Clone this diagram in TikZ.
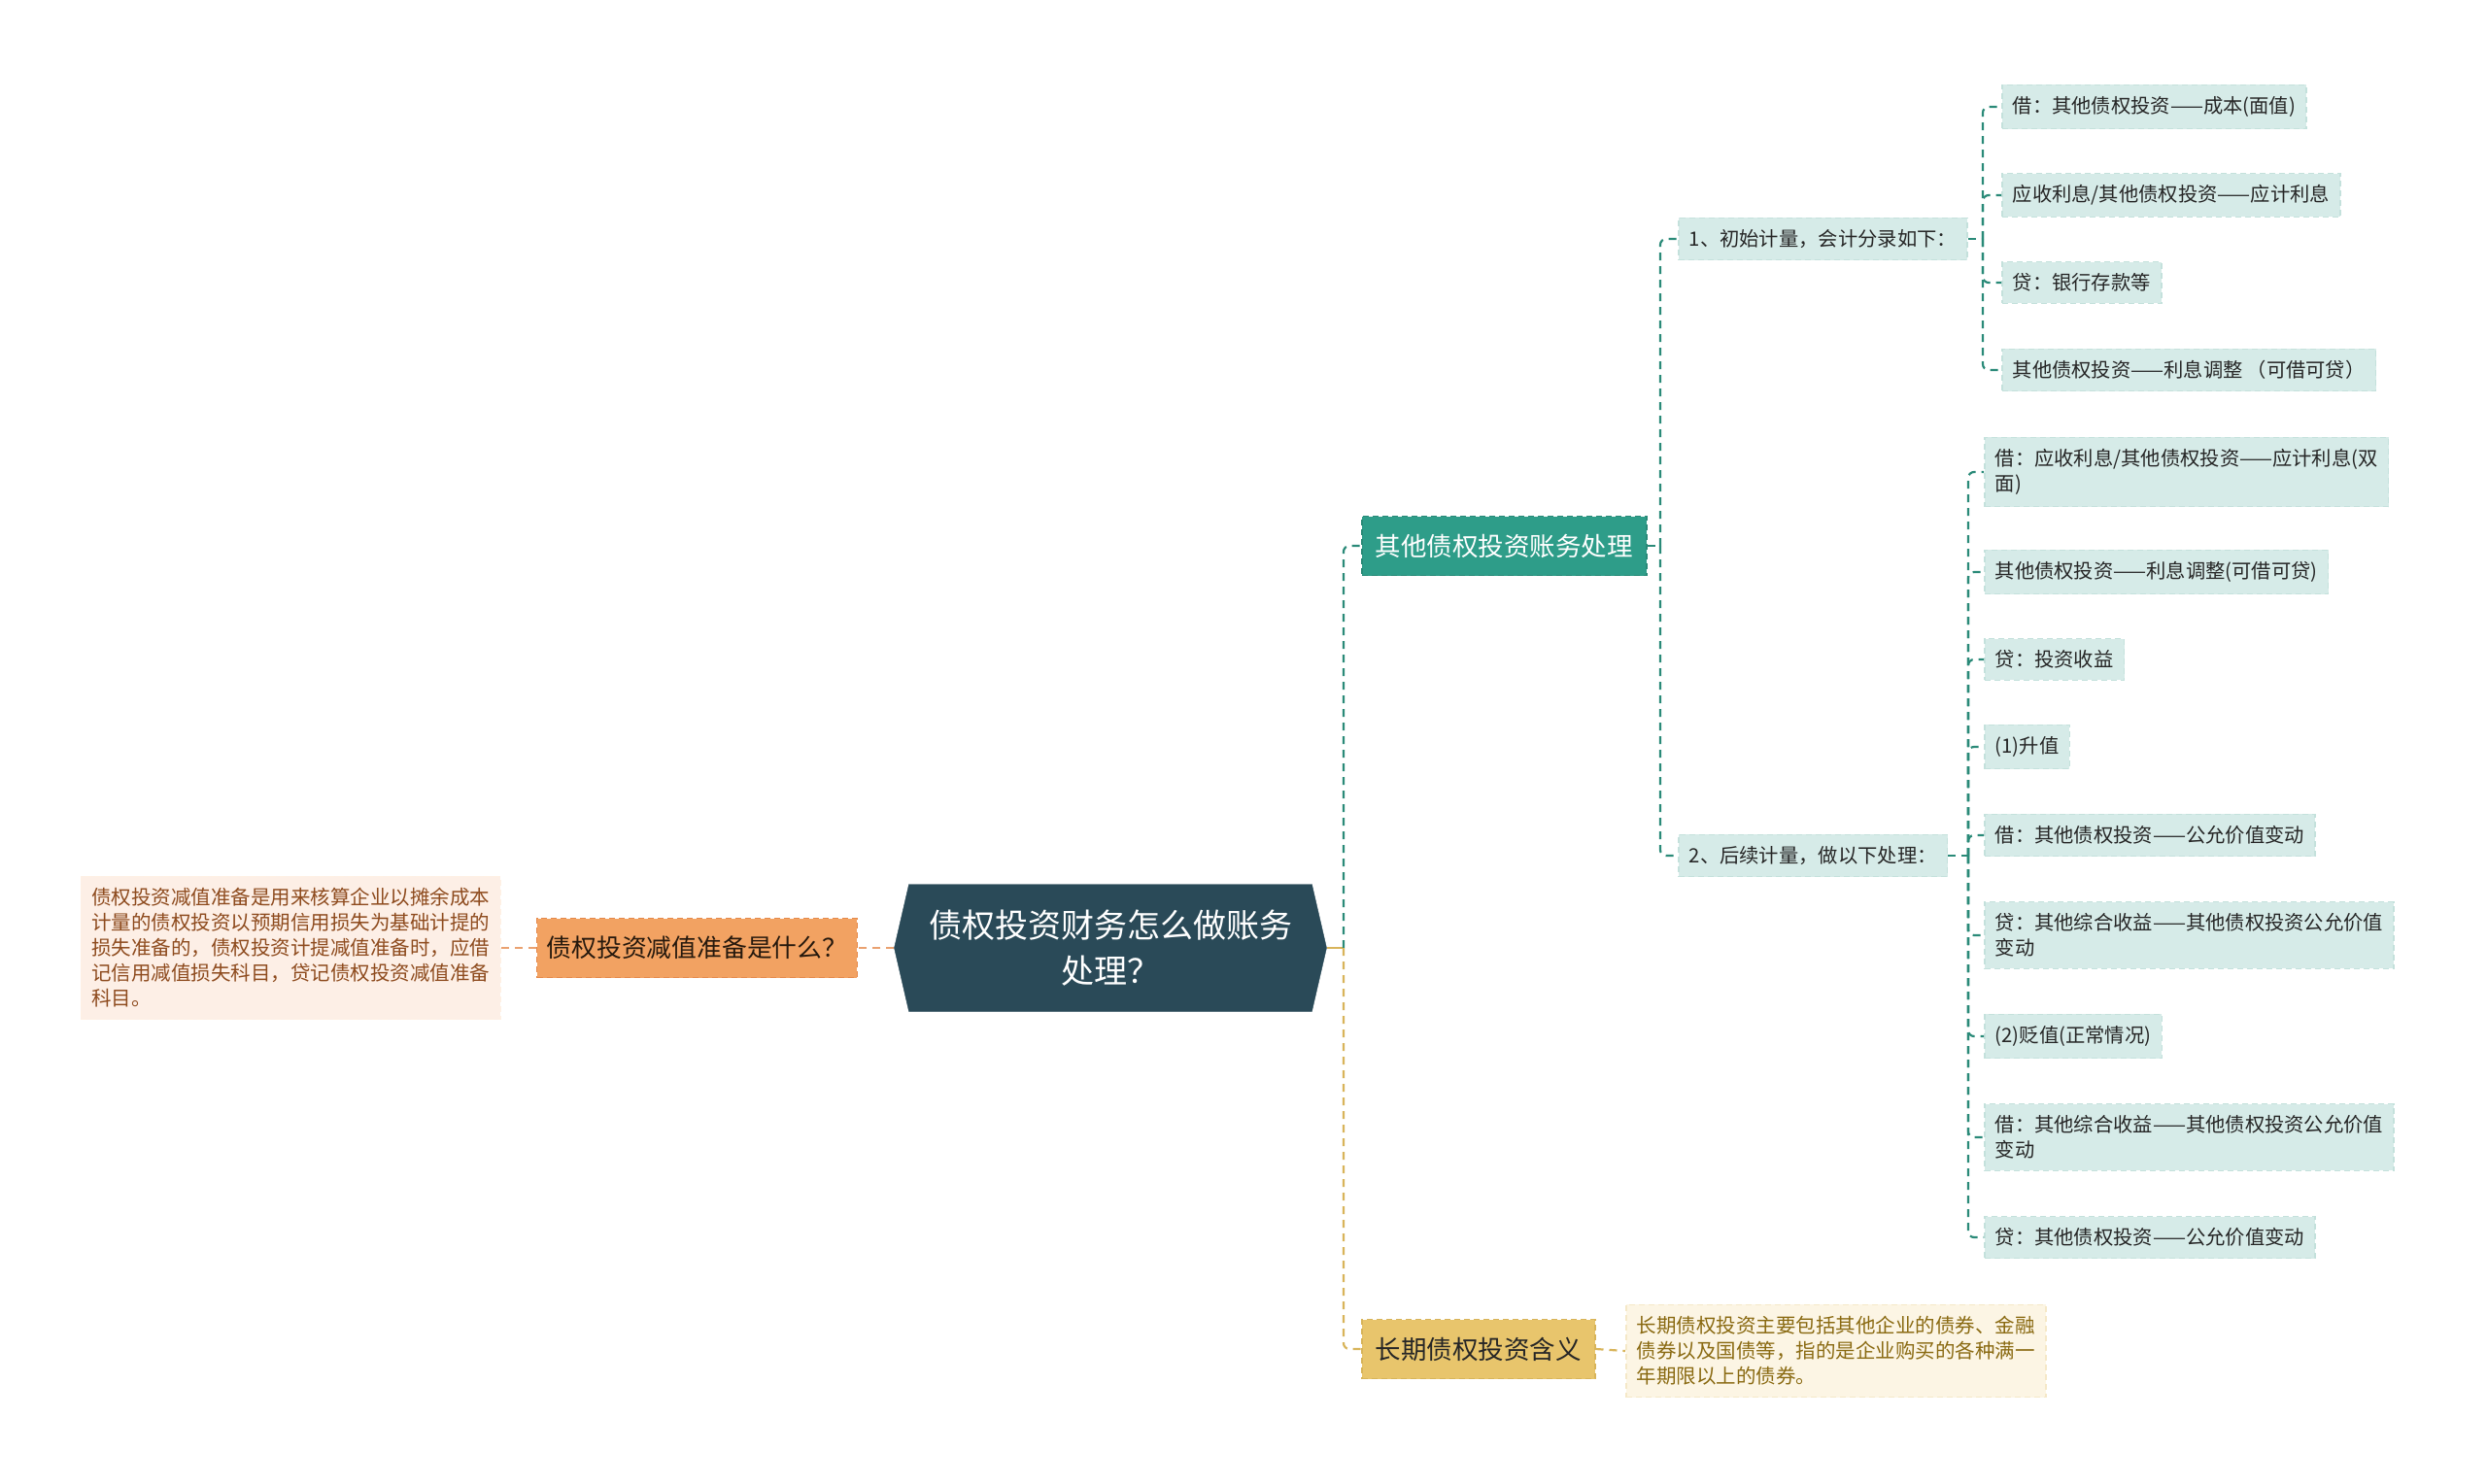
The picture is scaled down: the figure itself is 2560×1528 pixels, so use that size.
\documentclass[tikz,border=0pt]{standalone}
\usepackage{fontspec}
\setmainfont{Noto Sans CJK SC}
\usepackage{xcolor}
\usetikzlibrary{shapes.symbols}
\definecolor{rootfill}{HTML}{2A4A58}
\definecolor{tealfill}{HTML}{2E9D89}
\definecolor{tealline}{HTML}{2A8A78}
\definecolor{leaffill}{HTML}{D6EBE8}
\definecolor{leafline}{HTML}{C4E1DC}
\definecolor{orangefill}{HTML}{F2A262}
\definecolor{orangeline}{HTML}{E58A4C}
\definecolor{peachfill}{HTML}{FDEFE6}
\definecolor{peachtext}{HTML}{8E4B1E}
\definecolor{goldfill}{HTML}{E8C56C}
\definecolor{goldline}{HTML}{D8B45A}
\definecolor{creamfill}{HTML}{FCF5E4}
\definecolor{creamtext}{HTML}{8A6A12}

\begin{document}
\begin{tikzpicture}[x=1pt,y=-1pt,
    rootnode/.style={signal, signal to=east and west, signal pointer angle=154,
        fill=rootfill, draw=rootfill, text=white, align=center,
        minimum width=445, minimum height=131, font=\fontsize{34}{47}\selectfont},
    mainbox/.style={draw, line width=1.5, dash pattern=on 6 off 4, minimum height=61,
        inner xsep=14, font=\fontsize{26.5}{32}\selectfont},
    leafbox/.style={fill=leaffill, draw=leafline, line width=1.5, dash pattern=on 6 off 4,
        anchor=west, align=left, inner xsep=11, inner ysep=12,
        text=black!85, font=\fontsize{20.3}{26}\selectfont},
    notebox/.style={align=left, inner xsep=11, inner ysep=12, line width=1.5,
        dash pattern=on 6 off 4, font=\fontsize{20.5}{26}\selectfont},
    tealwire/.style={draw=tealline, line width=2.2, dash pattern=on 8 off 6, rounded corners=6},
    orangewire/.style={draw=orangeline!80, line width=2.2, dash pattern=on 8 off 6},
    goldwire/.style={draw=goldline, line width=2.2, dash pattern=on 8 off 6, rounded corners=6}]
    \useasboundingbox[fill=white] (0,0) rectangle (2560,1528);

    \node[rootnode] (root) at (1143,976) {债权投资财务怎么做账务\\处理？};

    \node[mainbox, fill=orangefill, draw=orangeline, text=black!80!brown, anchor=east,
        inner xsep=10, font=\fontsize{25.8}{32}\selectfont] (whatis) at (883,976) {债权投资减值准备是什么？};
    \node[notebox, fill=peachfill, draw=peachfill!70!orange!30, text=peachtext, anchor=east] (whatisnote) at (516,976)
        {债权投资减值准备是用来核算企业以摊余成本\\计量的债权投资以预期信用损失为基础计提的\\损失准备的，债权投资计提减值准备时，应借\\记信用减值损失科目，贷记债权投资减值准备\\科目。};

    \node[mainbox, fill=tealfill, draw=tealline, text=white, anchor=west] (account) at (1401,562) {其他债权投资账务处理};
    \node[mainbox, fill=goldfill, draw=goldline, text=black!85, anchor=west] (meaning) at (1401,1389) {长期债权投资含义};
    \node[notebox, fill=creamfill, draw=creamfill!80!goldline, text=creamtext, anchor=west] (meaningnote) at (1673,1391)
        {长期债权投资主要包括其他企业的债券、金融\\债券以及国债等，指的是企业购买的各种满一\\年期限以上的债券。};

    \node[leafbox] (first) at (1727,246) {1、初始计量，会计分录如下：};
    \node[leafbox] (later) at (1727,881) {2、后续计量，做以下处理：};

    \node[leafbox] (fa) at (2060,110) {借：其他债权投资——成本(面值)};
    \node[leafbox] (fb) at (2060,201) {应收利息/其他债权投资——应计利息};
    \node[leafbox] (fc) at (2060,291) {贷：银行存款等};
    \node[leafbox] (fd) at (2060,381) {其他债权投资——利息调整\hspace{4pt}（可借可贷）};

    \node[leafbox] (la) at (2042,486) {借：应收利息/其他债权投资——应计利息(双\\面)};
    \node[leafbox] (lb) at (2042,589) {其他债权投资——利息调整(可借可贷)};
    \node[leafbox] (lc) at (2042,679) {贷：投资收益};
    \node[leafbox] (ld) at (2042,769) {(1)升值};
    \node[leafbox] (le) at (2042,860) {借：其他债权投资——公允价值变动};
    \node[leafbox] (lf) at (2042,963) {贷：其他综合收益——其他债权投资公允价值\\变动};
    \node[leafbox] (lg) at (2042,1067) {(2)贬值(正常情况)};
    \node[leafbox] (lh) at (2042,1171) {借：其他综合收益——其他债权投资公允价值\\变动};
    \node[leafbox] (li) at (2042,1274) {贷：其他债权投资——公允价值变动};

    \coordinate (rootfork) at (1383,976);
    \coordinate (accfork) at (1709,562);
    \coordinate (firstfork) at (2041,246);
    \coordinate (laterfork) at (2026,881);

    \draw[orangewire] (root.west) -- (whatis.east);
    \draw[orangewire] (whatis.west) -- (whatisnote.east);
    \draw[goldline, line width=2.2] (root.east) -- (rootfork);
    \draw[tealwire] (rootfork) |- (account.west);
    \draw[goldwire] (rootfork) |- (meaning.west);
    \draw[goldwire] (meaning.east) -- (meaningnote.west);

    \draw[tealwire] (account.east) -- (accfork);
    \draw[tealwire] (accfork) |- (first.west);
    \draw[tealwire] (accfork) |- (later.west);

    \draw[tealwire] (first.east) -- (firstfork);
    \draw[tealwire] (firstfork) |- (fa.west);
    \draw[tealwire] (firstfork) |- (fb.west);
    \draw[tealwire] (firstfork) |- (fc.west);
    \draw[tealwire] (firstfork) |- (fd.west);

    \draw[tealwire] (later.east) -- (laterfork);
    \draw[tealwire] (laterfork) |- (la.west);
    \draw[tealwire] (laterfork) |- (lb.west);
    \draw[tealwire] (laterfork) |- (lc.west);
    \draw[tealwire] (laterfork) |- (ld.west);
    \draw[tealwire] (laterfork) |- (le.west);
    \draw[tealwire] (laterfork) |- (lf.west);
    \draw[tealwire] (laterfork) |- (lg.west);
    \draw[tealwire] (laterfork) |- (lh.west);
    \draw[tealwire] (laterfork) |- (li.west);
\end{tikzpicture}
\end{document}
